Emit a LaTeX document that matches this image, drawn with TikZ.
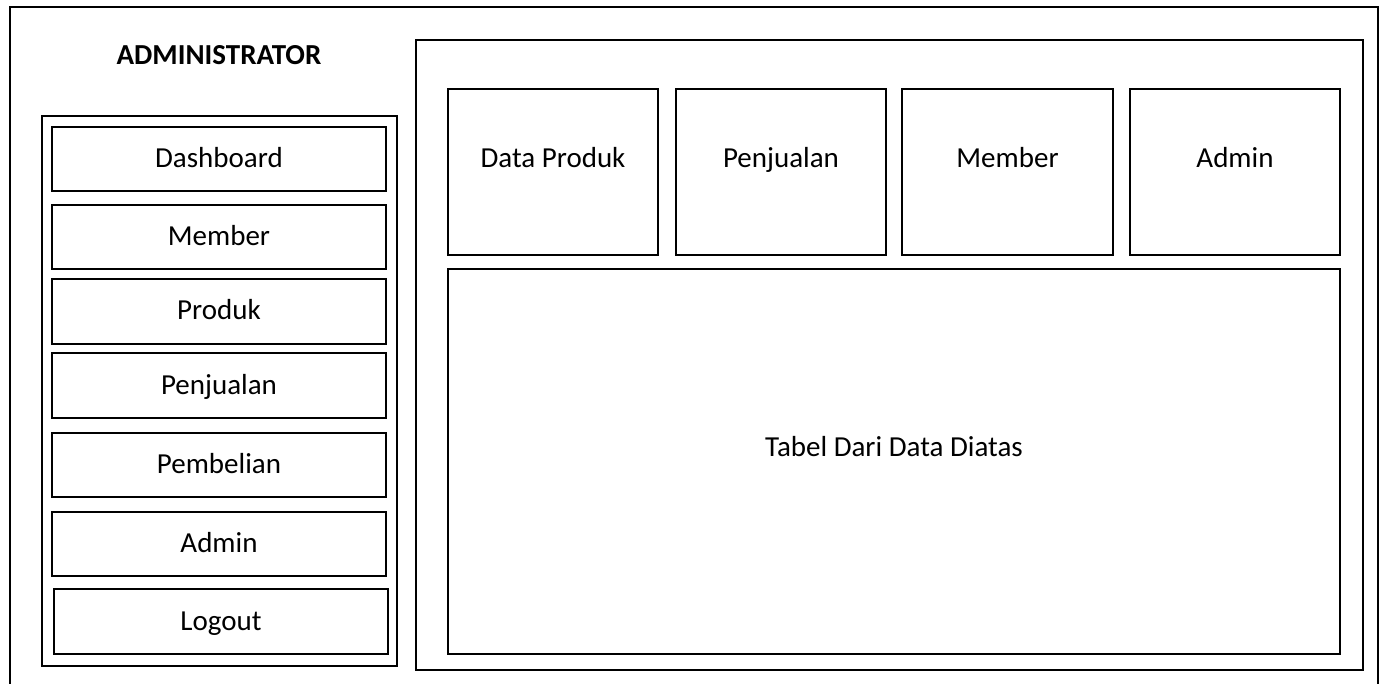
\documentclass[tikz,border=0pt]{standalone}
\usepackage{fontspec}
\setmainfont{Carlito}
\begin{document}
\begin{tikzpicture}[x=1pt,y=-1pt,
  box/.style={draw=black, line width=2.6pt, rectangle, inner sep=0pt, fill=none},
  txt/.style={font=\fontsize{29}{34}\selectfont, inner sep=0pt, text height=17pt, text depth=0pt},
  ttl/.style={font=\fontsize{29}{34}\selectfont\bfseries, inner sep=0pt, text height=17pt, text depth=0pt}]
\useasboundingbox (0,0) rectangle (1381,684);
\fill[white] (0,0) rectangle (1381,684);
\begin{scope}
\clip (0,0) rectangle (1381,684);
\coordinate (obl) at (10,700);
\coordinate (otl) at (10,7);
\coordinate (otr) at (1378,7);
\coordinate (obr) at (1378,700);
\draw[line width=2.6pt] (obl) -- (otl) -- (otr) -- (obr);
\end{scope}
\node[ttl] (title) at (219,56) {ADMINISTRATOR};
% left panel
\node[box, minimum width=355, minimum height=550] (lp) at (219.5,391) {};
\node[box, minimum width=334, minimum height=64, txt] (m1) at (219,159) {Dashboard};
\node[box, minimum width=334, minimum height=64, txt] (m2) at (219,237) {Member};
\node[box, minimum width=334, minimum height=65, txt] (m3) at (219,311.5) {Produk};
\node[box, minimum width=334, minimum height=65, txt] (m4) at (219,385.5) {Penjualan};
\node[box, minimum width=334, minimum height=64, txt] (m5) at (219,465) {Pembelian};
\node[box, minimum width=334, minimum height=64, txt] (m6) at (219,544) {Admin};
\node[box, minimum width=334, minimum height=65, txt] (m7) at (221,621.5) {Logout};
% right panel
\node[box, minimum width=947, minimum height=630] (rp) at (889.5,355) {};
\node[box, minimum width=210, minimum height=166] (t1) at (553,172) {};
\node[box, minimum width=210, minimum height=166] (t2) at (781,172) {};
\node[box, minimum width=211, minimum height=166] (t3) at (1007.5,172) {};
\node[box, minimum width=210, minimum height=166] (t4) at (1235,172) {};
\node[txt] (l1) at ([yshift=13pt]t1.center) {Data Produk};
\node[txt] (l2) at ([yshift=13pt]t2.center) {Penjualan};
\node[txt] (l3) at ([yshift=13pt]t3.center) {Member};
\node[txt] (l4) at ([yshift=13pt]t4.center) {Admin};
\node[box, minimum width=892, minimum height=385] (tb) at (894,461.5) {};
\node[txt] (tbl) at ([yshift=14pt]tb.center) {Tabel Dari Data Diatas};
\end{tikzpicture}
\end{document}
